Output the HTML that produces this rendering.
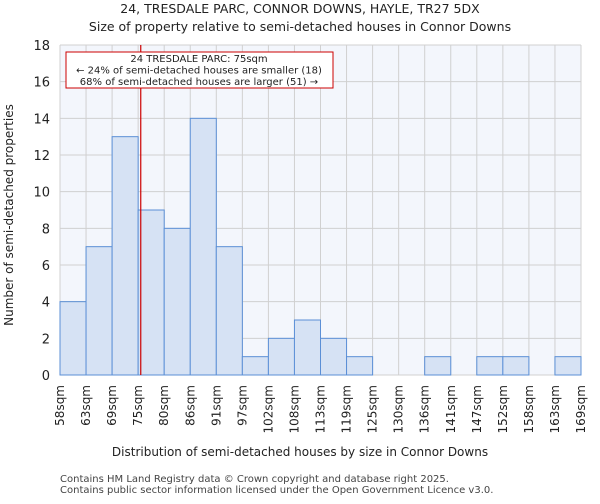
<!DOCTYPE html>
<html><head><meta charset="utf-8"><style>
body{margin:0;background:#fff;font-family:"DejaVu Sans","Liberation Sans",sans-serif}
</style></head><body>
<svg width="600" height="500" viewBox="0 0 600 500" xmlns="http://www.w3.org/2000/svg" font-family="DejaVu Sans, Liberation Sans, sans-serif">
<text x="300" y="13" text-anchor="middle" font-size="12.5" fill="#222">24, TRESDALE PARC, CONNOR DOWNS, HAYLE, TR27 5DX</text>
<text x="300" y="31" text-anchor="middle" font-size="12.5" fill="#222">Size of property relative to semi-detached houses in Connor Downs</text>
<rect x="60" y="45" width="521" height="330" fill="#f3f6fc"/>
<g id="grid"></g>
<g id="bars"></g>
<g id="axes"></g>
<line id="marker" y1="45" y2="375" stroke="#cc0000" stroke-width="1.2"/>
<rect x="66" y="52" width="267" height="36" fill="#fff" stroke="#cc0000" stroke-width="1"/>
<text x="199" y="62" text-anchor="middle" font-size="10" fill="#222">24 TRESDALE PARC: 75sqm</text>
<text x="199" y="73.5" text-anchor="middle" font-size="10" fill="#222">← 24% of semi-detached houses are smaller (18)</text>
<text x="199" y="85" text-anchor="middle" font-size="10" fill="#222">68% of semi-detached houses are larger (51) →</text>
<text transform="translate(13,215) rotate(-90)" text-anchor="middle" font-size="12" fill="#222">Number of semi-detached properties</text>
<text x="300" y="456" text-anchor="middle" font-size="12" fill="#222">Distribution of semi-detached houses by size in Connor Downs</text>
<text x="60" y="482" font-size="10" fill="#444">Contains HM Land Registry data © Crown copyright and database right 2025.</text>
<text x="60" y="493" font-size="10" fill="#444">Contains public sector information licensed under the Open Government Licence v3.0.</text>
</svg>
<script>
const binLabels=["58sqm","63sqm","69sqm","75sqm","80sqm","86sqm","91sqm","97sqm","102sqm","108sqm","113sqm","119sqm","125sqm","130sqm","136sqm","141sqm","147sqm","152sqm","158sqm","163sqm","169sqm"];
const counts=[4,7,13,9,8,14,7,1,2,3,2,1,0,0,1,0,1,1,0,1];
const yTicks=[0,2,4,6,8,10,12,14,16,18];
const markerBin=3.1;
const NS="http://www.w3.org/2000/svg";
const L=60,R=581,T=45,B=375,yMax=18;
const bw=(R-L)/counts.length;
const xs=i=>L+i*bw;
const ys=v=>B-(v/yMax)*(B-T);
function mk(tag,attrs,parent){const e=document.createElementNS(NS,tag);for(const k in attrs)e.setAttribute(k,attrs[k]);document.getElementById(parent).appendChild(e);return e;}
yTicks.forEach(t=>{
  const g=mk('line',{x1:L,x2:R,y1:ys(t),y2:ys(t),stroke:'#d0d0d0','stroke-width':1},'grid');
  
  
  const lb=mk('text',{x:L-10,y:ys(t)+5,'text-anchor':'end','font-size':13,fill:'#222'},'axes');
  lb.textContent=t;
  
  
});
binLabels.forEach((s,i)=>{
  const g=mk('line',{x1:xs(i),x2:xs(i),y1:T,y2:B,stroke:'#d0d0d0','stroke-width':1},'grid');
  
  
  const x=xs(i);
  const lb=mk('text',{transform:`translate(${x+4},${B+10}) rotate(-90)`,'text-anchor':'end','font-size':12,fill:'#222'},'axes');
  lb.textContent=s;
  
  
});
counts.forEach((c,i)=>{
  if(c<=0)return;
  const r=mk('rect',{x:xs(i),y:ys(c),width:bw,height:B-ys(c),fill:'#d6e2f4',stroke:'#5b8fd6','stroke-width':1},'bars');
  
  
});
const m=document.getElementById('marker');
m.setAttribute('x1',xs(markerBin));m.setAttribute('x2',xs(markerBin));
</script>
</body></html>
